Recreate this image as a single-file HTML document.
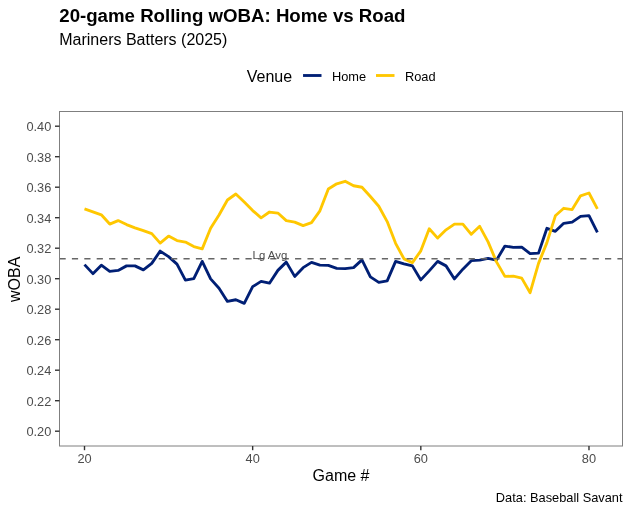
<!DOCTYPE html>
<html><head><meta charset="utf-8"><title>20-game Rolling wOBA</title>
<style>
html,body{margin:0;padding:0;background:#fff;}
body{width:631px;height:512px;position:relative;overflow:hidden;font-family:"Liberation Sans",sans-serif;}
.t{font-family:"Liberation Sans",sans-serif;}
</style></head><body>
<svg width="631" height="512" viewBox="0 0 631 512" style="display:block;position:absolute;left:0;top:0;will-change:transform">
<rect x="0" y="0" width="631" height="512" fill="#ffffff"/>
<path d="M84.50,264.63 L92.91,273.64 L101.32,265.13 L109.72,271.39 L118.13,270.39 L126.54,265.88 L134.95,265.88 L143.36,269.89 L151.76,263.38 L160.17,251.11 L168.58,256.62 L176.99,264.13 L185.40,280.15 L193.80,278.65 L202.21,261.38 L210.62,278.90 L219.03,288.17 L227.44,301.39 L235.84,299.73 L244.25,303.39 L252.66,286.66 L261.07,281.41 L269.48,283.16 L277.88,270.39 L286.29,262.13 L294.70,276.40 L303.11,267.64 L311.52,262.38 L319.92,265.13 L328.33,265.38 L336.74,268.39 L345.15,268.64 L353.56,267.64 L361.96,259.87 L370.37,276.90 L378.78,282.41 L387.19,280.91 L395.60,261.38 L404.00,263.88 L412.41,265.88 L420.82,279.90 L429.23,270.89 L437.64,261.38 L446.04,265.88 L454.45,278.90 L462.86,269.14 L471.27,260.63 L479.68,260.12 L488.08,258.37 L496.49,260.12 L504.90,246.10 L513.31,247.36 L521.72,247.11 L530.12,253.61 L538.53,253.11 L546.94,228.33 L555.35,231.33 L563.76,223.32 L572.16,222.07 L580.57,216.31 L588.98,215.56 L597.39,232.28" fill="none" stroke="#001F75" stroke-width="2.85" stroke-linejoin="round" stroke-linecap="butt"/>
<path d="M84.50,208.80 L92.91,211.80 L101.32,214.81 L109.72,224.07 L118.13,220.57 L126.54,224.57 L134.95,227.83 L143.36,230.58 L151.76,233.58 L160.17,243.10 L168.58,236.09 L176.99,240.60 L185.40,242.10 L193.80,246.60 L202.21,248.86 L210.62,228.33 L219.03,215.06 L227.44,200.03 L235.84,194.03 L244.25,202.04 L252.66,210.55 L261.07,217.81 L269.48,212.05 L277.88,213.05 L286.29,220.57 L294.70,222.07 L303.11,225.57 L311.52,222.57 L319.92,210.80 L328.33,189.02 L336.74,183.76 L345.15,181.26 L353.56,185.76 L361.96,187.27 L370.37,196.53 L378.78,206.29 L387.19,221.57 L395.60,243.35 L404.00,258.87 L412.41,262.63 L420.82,250.86 L429.23,228.83 L437.64,238.09 L446.04,229.83 L454.45,224.07 L462.86,224.07 L471.27,234.34 L479.68,226.32 L488.08,241.85 L496.49,261.88 L504.90,276.40 L513.31,276.15 L521.72,278.15 L530.12,292.67 L538.53,263.38 L546.94,242.60 L555.35,215.81 L563.76,208.30 L572.16,209.55 L580.57,195.78 L588.98,193.02 L597.39,208.80" fill="none" stroke="#FFC700" stroke-width="2.85" stroke-linejoin="round" stroke-linecap="butt"/>
<line x1="59.5" y1="258.7" x2="622.5" y2="258.7" stroke="#666666" stroke-width="1.55" stroke-dasharray="6.2 6.198"/>
<text x="252.6" y="258.6" font-size="11.4" fill="#4D4D4D" class="t">Lg Avg</text>
<rect x="59.5" y="111.5" width="563.0" height="334.5" fill="none" stroke="#7f7f7f" stroke-width="1"/>
<line x1="55.0" y1="126.20" x2="59.5" y2="126.20" stroke="#333333" stroke-width="1.4"/>
<text x="51.3" y="131.20" font-size="12.8" fill="#4D4D4D" text-anchor="end" class="t">0.40</text>
<line x1="55.0" y1="156.70" x2="59.5" y2="156.70" stroke="#333333" stroke-width="1.4"/>
<text x="51.3" y="161.70" font-size="12.8" fill="#4D4D4D" text-anchor="end" class="t">0.38</text>
<line x1="55.0" y1="187.20" x2="59.5" y2="187.20" stroke="#333333" stroke-width="1.4"/>
<text x="51.3" y="192.20" font-size="12.8" fill="#4D4D4D" text-anchor="end" class="t">0.36</text>
<line x1="55.0" y1="217.70" x2="59.5" y2="217.70" stroke="#333333" stroke-width="1.4"/>
<text x="51.3" y="222.70" font-size="12.8" fill="#4D4D4D" text-anchor="end" class="t">0.34</text>
<line x1="55.0" y1="248.20" x2="59.5" y2="248.20" stroke="#333333" stroke-width="1.4"/>
<text x="51.3" y="253.20" font-size="12.8" fill="#4D4D4D" text-anchor="end" class="t">0.32</text>
<line x1="55.0" y1="278.70" x2="59.5" y2="278.70" stroke="#333333" stroke-width="1.4"/>
<text x="51.3" y="283.70" font-size="12.8" fill="#4D4D4D" text-anchor="end" class="t">0.30</text>
<line x1="55.0" y1="309.20" x2="59.5" y2="309.20" stroke="#333333" stroke-width="1.4"/>
<text x="51.3" y="314.20" font-size="12.8" fill="#4D4D4D" text-anchor="end" class="t">0.28</text>
<line x1="55.0" y1="339.70" x2="59.5" y2="339.70" stroke="#333333" stroke-width="1.4"/>
<text x="51.3" y="344.70" font-size="12.8" fill="#4D4D4D" text-anchor="end" class="t">0.26</text>
<line x1="55.0" y1="370.20" x2="59.5" y2="370.20" stroke="#333333" stroke-width="1.4"/>
<text x="51.3" y="375.20" font-size="12.8" fill="#4D4D4D" text-anchor="end" class="t">0.24</text>
<line x1="55.0" y1="400.70" x2="59.5" y2="400.70" stroke="#333333" stroke-width="1.4"/>
<text x="51.3" y="405.70" font-size="12.8" fill="#4D4D4D" text-anchor="end" class="t">0.22</text>
<line x1="55.0" y1="431.20" x2="59.5" y2="431.20" stroke="#333333" stroke-width="1.4"/>
<text x="51.3" y="436.20" font-size="12.8" fill="#4D4D4D" text-anchor="end" class="t">0.20</text>
<line x1="84.50" y1="446.0" x2="84.50" y2="450.2" stroke="#333333" stroke-width="1.4"/>
<text x="84.50" y="462.5" font-size="12.8" fill="#4D4D4D" text-anchor="middle" class="t">20</text>
<line x1="252.66" y1="446.0" x2="252.66" y2="450.2" stroke="#333333" stroke-width="1.4"/>
<text x="252.66" y="462.5" font-size="12.8" fill="#4D4D4D" text-anchor="middle" class="t">40</text>
<line x1="420.82" y1="446.0" x2="420.82" y2="450.2" stroke="#333333" stroke-width="1.4"/>
<text x="420.82" y="462.5" font-size="12.8" fill="#4D4D4D" text-anchor="middle" class="t">60</text>
<line x1="588.98" y1="446.0" x2="588.98" y2="450.2" stroke="#333333" stroke-width="1.4"/>
<text x="588.98" y="462.5" font-size="12.8" fill="#4D4D4D" text-anchor="middle" class="t">80</text>
<text x="341" y="480.5" font-size="16" fill="#000" text-anchor="middle" class="t">Game #</text>
<text transform="translate(20,279.3) rotate(-90)" font-size="16" fill="#000" text-anchor="middle" class="t">wOBA</text>
<text x="59.25" y="21.75" font-size="18.67" font-weight="bold" fill="#000" class="t">20-game Rolling wOBA: Home vs Road</text>
<text x="59.25" y="45" font-size="16" fill="#000" class="t">Mariners Batters (2025)</text>
<text x="246.75" y="81.75" font-size="16" fill="#000" class="t">Venue</text>
<line x1="303.05" y1="75.5" x2="321.5" y2="75.5" stroke="#001F75" stroke-width="2.85"/>
<text x="332" y="81.1" font-size="12.8" fill="#000" class="t">Home</text>
<line x1="376.0" y1="75.5" x2="394.5" y2="75.5" stroke="#FFC700" stroke-width="2.85"/>
<text x="405" y="81.1" font-size="12.8" fill="#000" class="t">Road</text>
<text x="622.5" y="502" font-size="12.8" fill="#000" text-anchor="end" class="t">Data: Baseball Savant</text>
</svg>
</body></html>
